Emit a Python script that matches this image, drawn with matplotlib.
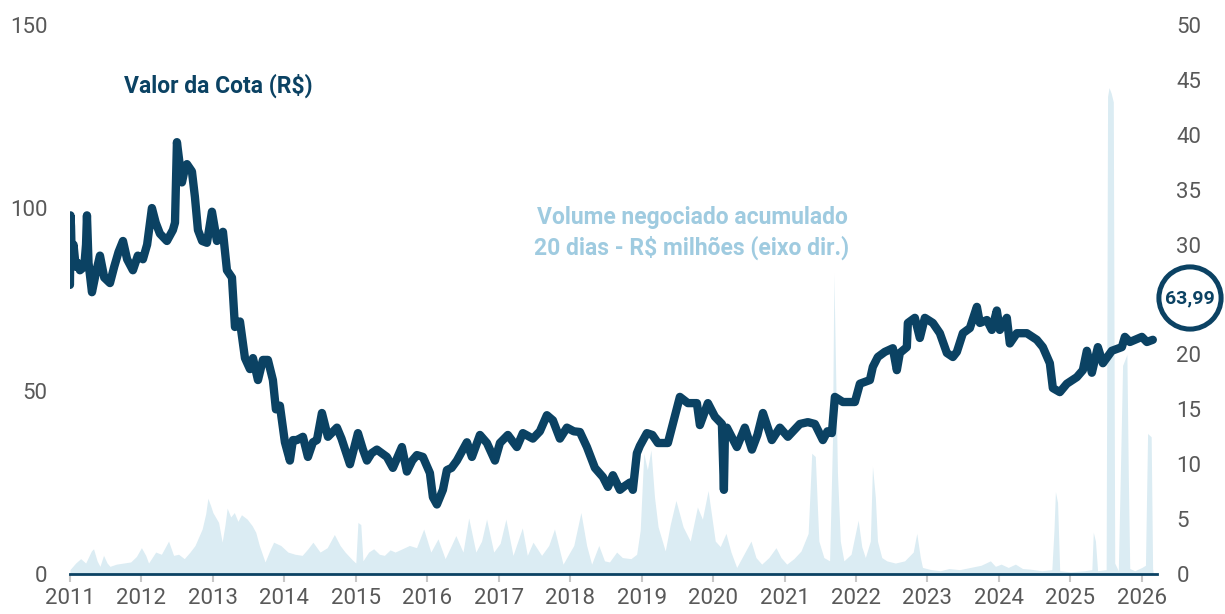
import matplotlib.pyplot as plt
import numpy as np

# Valor da cota (R$), eixo esquerdo - anos decimais
price_years = [
    2011.000, 2011.007, 2011.015, 2011.028, 2011.05, 2011.08, 2011.11, 2011.14,
    2011.20, 2011.225, 2011.238, 2011.26, 2011.308, 2011.36, 2011.420, 2011.48,
    2011.560, 2011.62, 2011.68, 2011.742, 2011.80, 2011.881, 2011.95, 2012.021,
    2012.08, 2012.147, 2012.20, 2012.259, 2012.357, 2012.441, 2012.470, 2012.497,
    2012.567, 2012.60, 2012.637, 2012.707, 2012.749, 2012.791, 2012.85, 2012.917,
    2012.987, 2013.057, 2013.141, 2013.197, 2013.267, 2013.309, 2013.379, 2013.449,
    2013.519, 2013.561, 2013.631, 2013.700, 2013.770, 2013.840, 2013.882, 2013.938,
    2014.008, 2014.078, 2014.120, 2014.176, 2014.260, 2014.330, 2014.400, 2014.456,
    2014.526, 2014.610, 2014.736, 2014.80, 2014.918, 2015.030, 2015.100, 2015.156,
    2015.220, 2015.295, 2015.435, 2015.519, 2015.645, 2015.715, 2015.790, 2015.855,
    2015.939, 2016.037, 2016.079, 2016.135, 2016.219, 2016.275, 2016.340, 2016.415,
    2016.555, 2016.625, 2016.737, 2016.835, 2016.947, 2017.017, 2017.128, 2017.254,
    2017.338, 2017.478, 2017.576, 2017.674, 2017.758, 2017.856, 2017.954, 2018.050,
    2018.136, 2018.234, 2018.346, 2018.458, 2018.528, 2018.598, 2018.696, 2018.760,
    2018.836, 2018.877, 2018.933, 2018.975, 2019.073, 2019.150, 2019.227, 2019.367,
    2019.423, 2019.535, 2019.647, 2019.773, 2019.815, 2019.927, 2020.025, 2020.123,
    2020.140, 2020.151, 2020.165, 2020.193, 2020.333, 2020.444, 2020.543, 2020.620,
    2020.697, 2020.822, 2020.934, 2021.046, 2021.214, 2021.326, 2021.424, 2021.536,
    2021.600, 2021.662, 2021.690, 2021.704, 2021.816, 2021.984, 2022.054, 2022.194,
    2022.235, 2022.305, 2022.403, 2022.515, 2022.571, 2022.613, 2022.711, 2022.725,
    2022.823, 2022.893, 2022.963, 2023.075, 2023.173, 2023.271, 2023.355, 2023.411,
    2023.495, 2023.593, 2023.691, 2023.733, 2023.831, 2023.900, 2023.970, 2024.012,
    2024.110, 2024.152, 2024.250, 2024.390, 2024.530, 2024.614, 2024.712, 2024.754,
    2024.852, 2024.950, 2025.090, 2025.174, 2025.230, 2025.300, 2025.384, 2025.454,
    2025.580, 2025.720, 2025.762, 2025.832, 2026.000, 2026.070, 2026.153,
]
price_vals = [
    79, 98, 95, 84, 90, 84, 85, 83,
    84, 90, 98, 85, 77, 82, 87, 81,
    79.5, 84, 88, 91, 86, 83, 87, 86,
    90, 100, 96, 93, 91, 94, 96, 118,
    107, 110, 112, 110, 103, 94, 91, 90.5,
    99, 91, 93.5, 83, 81, 67.5, 69, 59,
    56, 59, 53, 58.5, 58.5, 53, 45, 46,
    36, 31, 36.6, 36.6, 37.5, 32, 36, 36.6,
    44, 37.5, 40, 37, 30, 38.5, 34, 31,
    33, 34, 32, 29, 34.7, 28, 31, 32.5,
    32, 27.6, 21, 19, 23, 28.4, 29, 31,
    36, 32, 38, 35.8, 31, 35.8, 38, 34.7,
    38.5, 37, 39, 43.4, 42, 37, 40, 39,
    38.8, 34.7, 29, 26.5, 23.8, 27, 23, 24,
    25, 23, 33, 35, 38.5, 38, 35.8, 35.8,
    40, 48.4, 46.7, 46.7, 40.7, 46.7, 43, 41,
    30, 23, 38, 40, 34.7, 40, 34, 38,
    44, 36.6, 40, 37.5, 41, 41.5, 41, 36.6,
    39, 38.5, 45, 48.4, 47, 47, 52, 53,
    56.6, 59.3, 60.7, 61.7, 55.7, 60.4, 62, 68.6,
    70, 64.5, 70, 68.6, 65.8, 60.4, 59.3, 60.7,
    65.8, 67.2, 73, 68.6, 69.4, 66.7, 72, 66.7,
    70, 63, 65.8, 65.8, 64, 62, 57.6, 50.8,
    49.7, 52, 53.8, 55.7, 61, 55, 62, 57.6,
    61, 62, 64.8, 63.4, 64.8, 63.4, 64,
]

# Volume negociado acumulado 20 dias (R$ milhoes), eixo direito
vol_years = [
    2011.00, 2011.08, 2011.15, 2011.22, 2011.30, 2011.33, 2011.38, 2011.42,
    2011.47, 2011.52, 2011.56, 2011.65, 2011.75, 2011.85, 2011.93, 2012.00,
    2012.06, 2012.10, 2012.20, 2012.28, 2012.38, 2012.45, 2012.52, 2012.60,
    2012.68, 2012.75, 2012.85, 2012.90, 2012.93, 2012.97, 2013.00, 2013.08,
    2013.13, 2013.17, 2013.20, 2013.25, 2013.30, 2013.35, 2013.40, 2013.48,
    2013.55, 2013.60, 2013.65, 2013.73, 2013.80, 2013.85, 2013.95, 2014.05,
    2014.15, 2014.25, 2014.33, 2014.40, 2014.50, 2014.60, 2014.70, 2014.78,
    2014.85, 2014.95, 2015.00, 2015.03, 2015.07, 2015.10, 2015.18, 2015.25,
    2015.33, 2015.40, 2015.48, 2015.55, 2015.65, 2015.75, 2015.85, 2015.95,
    2016.05, 2016.15, 2016.25, 2016.33, 2016.40, 2016.50, 2016.58, 2016.68,
    2016.76, 2016.83, 2016.93, 2017.02, 2017.10, 2017.20, 2017.33, 2017.40,
    2017.48, 2017.60, 2017.70, 2017.78, 2017.90, 2018.05, 2018.15, 2018.23,
    2018.30, 2018.40, 2018.48, 2018.55, 2018.65, 2018.73, 2018.85, 2018.93,
    2018.98, 2019.03, 2019.08, 2019.13, 2019.18, 2019.23, 2019.33, 2019.40,
    2019.48, 2019.58, 2019.68, 2019.78, 2019.85, 2019.93, 2020.03, 2020.10,
    2020.18, 2020.25, 2020.33, 2020.43, 2020.53, 2020.60, 2020.68, 2020.78,
    2020.88, 2020.95, 2021.03, 2021.13, 2021.23, 2021.33, 2021.36, 2021.38,
    2021.43, 2021.46, 2021.48, 2021.55, 2021.63, 2021.67, 2021.69, 2021.71,
    2021.74, 2021.78, 2021.83, 2021.93, 2022.03, 2022.08, 2022.13, 2022.20,
    2022.23, 2022.27, 2022.30, 2022.36, 2022.43, 2022.55, 2022.68, 2022.80,
    2022.85, 2022.90, 2022.93, 2023.05, 2023.18, 2023.30, 2023.45, 2023.60,
    2023.75, 2023.88, 2023.95, 2024.03, 2024.13, 2024.23, 2024.33, 2024.43,
    2024.60, 2024.74, 2024.77, 2024.79, 2024.82, 2024.85, 2025.00, 2025.20,
    2025.30, 2025.32, 2025.35, 2025.38, 2025.50, 2025.52, 2025.54, 2025.57,
    2025.60, 2025.62, 2025.67, 2025.70, 2025.73, 2025.79, 2025.81, 2025.83,
    2025.90, 2026.00, 2026.05, 2026.08, 2026.13, 2026.15, 2026.16,
]
vol_vals = [
    0.4, 1.0, 1.4, 1.0, 2.1, 2.3, 1.2, 0.7,
    1.7, 1.0, 0.7, 0.9, 1.0, 1.1, 1.6, 2.4,
    1.7, 1.0, 2.0, 1.8, 3.0, 1.7, 1.8, 1.4,
    2.0, 2.6, 4.1, 5.5, 6.9, 6.2, 5.6, 4.7,
    2.9, 4.5, 6.0, 5.2, 5.6, 4.8, 5.4, 5.0,
    4.4, 3.8, 2.6, 1.1, 2.2, 2.9, 2.6, 2.0,
    1.8, 1.7, 2.3, 2.9, 2.0, 2.4, 3.6, 2.6,
    2.0, 1.3, 1.0, 4.7, 4.5, 1.2, 2.0, 2.3,
    1.8, 1.7, 2.2, 2.0, 2.3, 2.6, 2.4, 4.1,
    2.0, 3.2, 1.4, 2.5, 3.5, 2.0, 5.1, 2.0,
    3.0, 5.0, 2.0, 2.8, 5.0, 1.7, 4.2, 1.7,
    2.9, 1.7, 2.6, 4.1, 0.9, 2.6, 5.6, 2.6,
    0.9, 2.6, 1.2, 1.1, 2.0, 1.5, 1.4, 1.8,
    4.0, 11.0, 9.5, 11.3, 7.0, 4.3, 2.1, 4.5,
    6.7, 4.3, 3.0, 6.1, 5.0, 7.6, 3.0, 2.5,
    3.7, 2.0, 0.6, 1.8, 3.0, 1.5, 0.9, 1.5,
    2.4, 1.5, 0.9, 1.4, 2.1, 3.7, 8.0, 11.0,
    10.7, 6.0, 3.0, 1.5, 1.2, 12.0, 27.4, 20.0,
    9.2, 3.0, 1.2, 1.8, 4.9, 2.5, 1.5, 3.0,
    9.8, 7.0, 3.0, 1.5, 1.2, 1.0, 1.2, 2.0,
    3.7, 1.5, 0.6, 0.4, 0.3, 0.5, 0.4, 0.6,
    0.8, 1.2, 0.7, 0.9, 0.6, 0.9, 0.5, 0.45,
    0.3, 0.4, 4.0, 7.5, 6.5, 0.3, 0.2, 0.3,
    0.4, 3.8, 3.0, 0.3, 0.4, 43.5, 44.3, 43.8,
    43.0, 1.0, 0.3, 9.5, 19.0, 20.0, 9.0, 0.5,
    0.3, 0.6, 0.8, 12.8, 12.5, 0.5, 0.0,
]

year_ticks = list(range(2011, 2027))
right_ticks = list(range(0, 51, 5))
# o rótulo 25 fica escondido atrás do círculo no original
right_labels = ["" if t == 25 else str(t) for t in right_ticks]
last_value = "63,99"

navy = "#0b4263"
light = "#dbecf3"
vol_text = "#9fcbe0"
grey = "#595959"

plt.rcParams["font.family"] = ["Roboto", "DejaVu Sans"]

fig = plt.figure(figsize=(12.25, 6.14), dpi=100)
ax = fig.add_axes([0.0571, 0.0651, 0.8873, 0.8941])
ax2 = ax.twinx()

ax2.fill_between(vol_years, vol_vals, 0, color=light, lw=0)
ax.plot(price_years, price_vals, color=navy, lw=6,
        solid_joinstyle="round", solid_capstyle="round")

ax.set_zorder(ax2.get_zorder() + 1)
ax.patch.set_visible(False)

ax.set_xlim(2011, 2026.21)
ax.set_ylim(0, 150)
ax2.set_ylim(0, 50)
ax.set_yticks([0, 50, 100, 150])
ax2.set_yticks(right_ticks, right_labels)
ax.set_xticks(year_ticks)

for a in (ax, ax2):
    for s in ("top", "left", "right", "bottom"):
        a.spines[s].set_visible(False)
ax.spines["bottom"].set_visible(True)
ax.spines["bottom"].set_color(navy)
ax.spines["bottom"].set_linewidth(2)

ax.tick_params(axis="y", length=0, pad=16, labelsize=16, labelcolor=grey)
ax2.tick_params(axis="y", length=0, pad=14, labelsize=16, labelcolor=grey)
ax.tick_params(axis="x", length=6, width=1.5, color="#c8c8c8", pad=4,
               labelsize=16, labelcolor=grey)

fig.text(218 / 1225, 1 - 86 / 614, "Valor da Cota (R$)", color=navy,
         fontsize=16.5, fontweight="bold", ha="center", va="center")
fig.text(692 / 1225, 1 - 233 / 614,
         "Volume negociado acumulado\n20 dias - R$ milhões (eixo dir.)",
         color=vol_text, fontsize=16.5, fontweight="bold", ha="center",
         va="center", linespacing=1.3)
fig.text(1190 / 1225, 1 - 298 / 614, last_value, color=navy, fontsize=14,
         fontweight="bold", ha="center", va="center",
         bbox=dict(boxstyle="circle,pad=0.32", fc="white", ec=navy, lw=3.6))

fig.savefig("out.png", dpi=100)
